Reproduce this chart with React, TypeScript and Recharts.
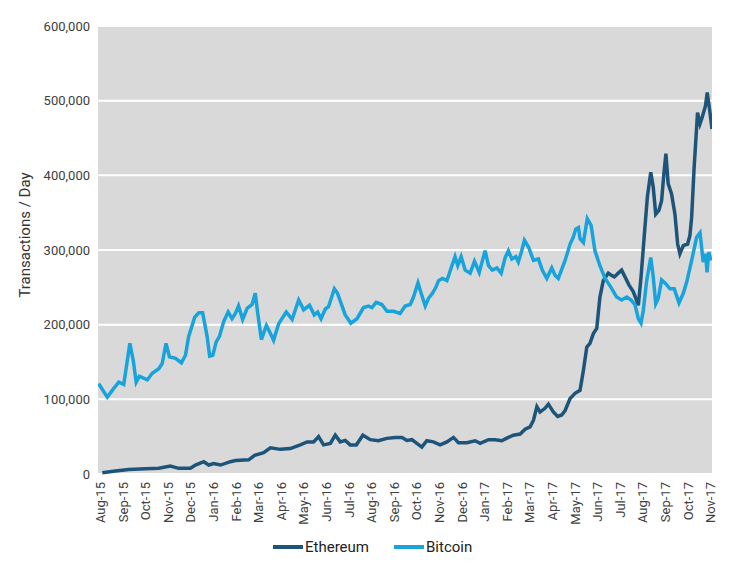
import { LineChart, Line, XAxis, YAxis, CartesianGrid, Legend } from "recharts";

// month tick labels, index 0 = Aug-15
const months = [
  "Aug-15", "Sep-15", "Oct-15", "Nov-15", "Dec-15",
  "Jan-16", "Feb-16", "Mar-16", "Apr-16", "May-16", "Jun-16",
  "Jul-16", "Aug-16", "Sep-16", "Oct-16", "Nov-16", "Dec-16",
  "Jan-17", "Feb-17", "Mar-17", "Apr-17", "May-17", "Jun-17",
  "Jul-17", "Aug-17", "Sep-17", "Oct-17", "Nov-17",
];

const yTicks = [0, 100, 200, 300, 400, 500, 600];

const seriesOrder = ["Ethereum", "Bitcoin"];

// [month index, thousands of transactions per day]
const ethereum: [number, number][] = [
  [0.08, 1.7], [0.66, 4], [1.25, 6], [1.99, 7], [2.58, 7.6], [3.09, 10.7],
  [3.46, 7.6], [3.98, 7.6], [4.2, 12], [4.57, 16.5], [4.79, 12], [5.01, 14],
  [5.31, 12], [5.75, 16.5], [5.97, 18], [6.56, 19], [6.82, 25], [7.22, 28.5],
  [7.52, 35], [7.96, 33], [8.4, 34], [8.84, 39], [9.14, 43], [9.43, 43],
  [9.65, 50], [9.87, 39], [10.17, 41], [10.39, 52], [10.61, 43], [10.83, 45],
  [11.05, 39], [11.32, 39], [11.61, 52], [11.94, 46], [12.3, 44.5], [12.67, 47.7],
  [13.04, 49], [13.34, 49], [13.56, 45], [13.78, 46], [14.0, 41], [14.22, 36],
  [14.44, 44.5], [14.73, 43], [15.03, 39], [15.33, 43], [15.62, 49], [15.84, 42],
  [16.21, 42], [16.58, 44.5], [16.8, 41], [17.17, 46], [17.46, 46], [17.76, 44.5],
  [17.98, 48], [18.27, 52], [18.57, 53.5], [18.79, 60], [19.01, 63], [19.16, 72],
  [19.31, 90], [19.45, 83], [19.67, 88], [19.82, 93.5], [20.04, 83], [20.23, 77],
  [20.41, 79], [20.56, 85], [20.78, 101], [21.0, 108], [21.22, 112], [21.37, 139],
  [21.52, 170], [21.66, 175], [21.81, 188], [21.96, 195], [22.1, 237], [22.25, 259],
  [22.47, 269], [22.62, 266], [22.74, 264], [22.91, 269], [23.06, 273], [23.21, 264],
  [23.39, 253], [23.58, 244], [23.8, 226], [23.92, 264], [24.07, 322], [24.2, 371],
  [24.35, 404], [24.46, 384], [24.57, 348], [24.71, 353], [24.83, 366], [24.93, 402],
  [25.02, 429], [25.12, 389], [25.27, 375], [25.42, 348], [25.54, 308], [25.64, 295],
  [25.79, 306], [25.98, 308], [26.08, 319], [26.16, 344], [26.27, 411], [26.42, 484],
  [26.53, 469], [26.63, 478], [26.77, 493], [26.85, 511], [26.95, 489], [27.06, 462],
];

const bitcoin: [number, number][] = [
  [-0.08, 121], [0.3, 103], [0.57, 114], [0.81, 123], [1.03, 120], [1.3, 175],
  [1.45, 152], [1.58, 123], [1.72, 131], [2.07, 126], [2.29, 135], [2.58, 141],
  [2.73, 148], [2.9, 175], [3.05, 157], [3.32, 155], [3.58, 149], [3.76, 159],
  [3.9, 184], [4.17, 210], [4.35, 216], [4.52, 216], [4.72, 184], [4.83, 158],
  [4.97, 159], [5.12, 177], [5.26, 184], [5.45, 204], [5.65, 217], [5.82, 208],
  [5.97, 215], [6.11, 225], [6.29, 207], [6.49, 222], [6.71, 227], [6.85, 242],
  [6.95, 217], [7.12, 180], [7.34, 199], [7.49, 190], [7.66, 179], [7.88, 201],
  [8.22, 217], [8.48, 207], [8.77, 233], [8.99, 220], [9.25, 226], [9.46, 213],
  [9.61, 217], [9.76, 208], [9.95, 221], [10.09, 224], [10.35, 248], [10.49, 242],
  [10.83, 213], [11.08, 202], [11.35, 208], [11.64, 223], [11.86, 225], [12.01, 223],
  [12.2, 230], [12.45, 227], [12.68, 218], [12.97, 218], [13.26, 215], [13.48, 225],
  [13.71, 227], [13.85, 237], [14.05, 256], [14.19, 242], [14.37, 225], [14.51, 235],
  [14.69, 242], [14.84, 250], [14.96, 259], [15.13, 262], [15.33, 259], [15.55, 279],
  [15.69, 291], [15.81, 279], [15.96, 291], [16.14, 273], [16.36, 269], [16.55, 285],
  [16.76, 270], [17.02, 299], [17.17, 279], [17.34, 273], [17.54, 276], [17.73, 269],
  [17.91, 290], [18.05, 299], [18.2, 288], [18.38, 291], [18.49, 284], [18.64, 299],
  [18.76, 313], [18.94, 304], [19.16, 286], [19.38, 288], [19.55, 273], [19.75, 262],
  [19.97, 276], [20.12, 266], [20.26, 262], [20.41, 274], [20.56, 286], [20.78, 308],
  [20.92, 317], [21.03, 328], [21.15, 330], [21.22, 315], [21.37, 310], [21.54, 342],
  [21.71, 333], [21.88, 299], [22.1, 279], [22.33, 262], [22.59, 250], [22.84, 237],
  [23.06, 233], [23.29, 237], [23.48, 233], [23.65, 227], [23.8, 208], [23.92, 202],
  [24.02, 219], [24.17, 259], [24.35, 290], [24.46, 264], [24.57, 228], [24.68, 235],
  [24.83, 260], [25.01, 255], [25.2, 248], [25.39, 248], [25.6, 229], [25.79, 242],
  [25.94, 257], [26.16, 286], [26.38, 317], [26.53, 323], [26.67, 284], [26.78, 295],
  [26.84, 270], [26.92, 297], [27.01, 286],
];

const ETH_COLOR = "#1d5479";
const BTC_COLOR = "#17a3dc";
const FONT = "Roboto, 'Noto Sans', sans-serif";

const ethData = ethereum.map(([m, v]) => ({ m, v }));
const btcData = bitcoin.map(([m, v]) => ({ m, v }));

function MonthTick({ x, y, payload }: any) {
  return (
    <text
      x={x}
      y={y}
      transform={`rotate(-90, ${x}, ${y})`}
      textAnchor="end"
      dominantBaseline="central"
      fontSize={13}
      fontFamily={FONT}
      fill="#404040"
    >
      {months[payload.value]}
    </text>
  );
}

function LegendBox({ payload }: any) {
  const items = [...(payload || [])].sort(
    (a: any, b: any) => seriesOrder.indexOf(a.value) - seriesOrder.indexOf(b.value)
  );
  return (
    <div style={{ display: "flex", fontFamily: FONT, fontSize: 15, color: "#222", lineHeight: "18px" }}>
      {items.map((p: any, i: number) => (
        <div key={i} style={{ display: "flex", alignItems: "center", marginRight: 25 }}>
          <span
            style={{
              display: "inline-block",
              width: 30,
              height: 4,
              background: p.color,
              marginRight: 2,
            }}
          />
          <span>{p.value}</span>
        </div>
      ))}
    </div>
  );
}

export default function App() {
  return (
    <div style={{ position: "absolute", left: 0, top: 0, background: "#fff" }}>
      <LineChart
        width={736}
        height={566}
        margin={{ top: 26, right: 24, left: 0, bottom: 14 }}
      >
        <CartesianGrid
          fill="#d9d9d9"
          stroke="#ffffff"
          strokeWidth={2}
          vertical={false}
        />
        <XAxis
          type="number"
          dataKey="m"
          domain={[-0.11, 27.06]}
          ticks={months.map((_, i) => i)}
          interval={0}
          allowDataOverflow
          axisLine={false}
          tickLine={false}
          height={60}
          tick={<MonthTick />}
        />
        <YAxis
          type="number"
          domain={[0, 600]}
          ticks={yTicks}
          width={98}
          axisLine={false}
          tickLine={false}
          tickFormatter={(v: number) => (v * 1000).toLocaleString("en-US")}
          tick={{ fontSize: 13, fontFamily: FONT, fill: "#404040" }}
          label={{
            content: () => (
              <text
                x={25}
                y={235}
                transform="rotate(-90, 25, 235)"
                textAnchor="middle"
                dominantBaseline="central"
                fontSize={15}
                fontFamily={FONT}
                fill="#333"
              >
                Transactions / Day
              </text>
            ),
          }}
        />
        <Legend
          content={<LegendBox />}
          wrapperStyle={{ position: "absolute", left: 273, top: 538, width: 300 }}
        />
        <Line
          data={ethData}
          dataKey="v"
          name="Ethereum"
          stroke={ETH_COLOR}
          strokeWidth={3.5}
          dot={false}
          type="linear"
          isAnimationActive={false}
        />
        <Line
          data={btcData}
          dataKey="v"
          name="Bitcoin"
          stroke={BTC_COLOR}
          strokeWidth={3.5}
          dot={false}
          type="linear"
          isAnimationActive={false}
        />
      </LineChart>
    </div>
  );
}
